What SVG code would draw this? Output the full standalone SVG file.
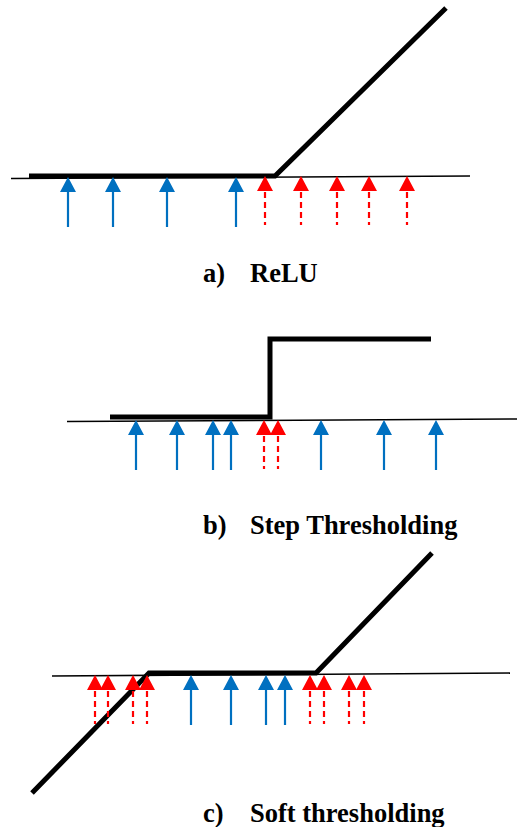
<svg xmlns="http://www.w3.org/2000/svg" width="517" height="827" viewBox="0 0 517 827">
  <style>
    .axis { stroke: #000; stroke-width: 1.6; fill: none; }
    .curve { stroke: #000; stroke-width: 5; fill: none; stroke-linejoin: miter; }
    .label { font-family: "Liberation Serif", "Times New Roman", serif; font-weight: bold; font-size: 26.5px; fill: #000; }
  </style>
  <defs>
    <!-- upward arrow, tip at origin -->
    <g id="blue-arrow">
      <line x1="0" y1="12" x2="0" y2="50" stroke="#0070C0" stroke-width="2.2"/>
      <polygon points="0,0 8,15 -8,15" fill="#0070C0"/>
    </g>
    <g id="red-arrow">
      <line x1="0" y1="16" x2="0" y2="49" stroke="#FF0000" stroke-width="2.2" stroke-dasharray="6 4"/>
      <polygon points="0,0 8,15 -8,15" fill="#FF0000"/>
    </g>
  </defs>

  <rect width="517" height="827" fill="#fff"/>

  <!-- a) ReLU -->
  <g id="relu">
    <line class="axis" x1="11" y1="178.5" x2="470" y2="176"/>
    <polyline class="curve" points="29,176 275,176 446,8"/>
    <g id="relu-arrows">
      <use href="#blue-arrow" x="68" y="177"/>
      <use href="#blue-arrow" x="113" y="177"/>
      <use href="#blue-arrow" x="167" y="177"/>
      <use href="#blue-arrow" x="236" y="177"/>
      <use href="#red-arrow" x="265" y="176"/>
      <use href="#red-arrow" x="301" y="176"/>
      <use href="#red-arrow" x="337" y="176"/>
      <use href="#red-arrow" x="369" y="176"/>
      <use href="#red-arrow" x="407" y="176"/>
    </g>
    <text class="label" y="282"><tspan x="203">a)</tspan><tspan x="250">ReLU</tspan></text>
  </g>

  <!-- b) Step thresholding -->
  <g id="step">
    <line class="axis" x1="67" y1="421.5" x2="517" y2="419"/>
    <polyline class="curve" points="110,417 270,417 270,339 431,339"/>
    <g id="step-arrows">
      <use href="#blue-arrow" x="136" y="420"/>
      <use href="#blue-arrow" x="177" y="420"/>
      <use href="#blue-arrow" x="213" y="420"/>
      <use href="#blue-arrow" x="231" y="420"/>
      <use href="#red-arrow" x="264" y="420"/>
      <use href="#red-arrow" x="278" y="420"/>
      <use href="#blue-arrow" x="321" y="420"/>
      <use href="#blue-arrow" x="384" y="420"/>
      <use href="#blue-arrow" x="436" y="420"/>
    </g>
    <text class="label" y="534"><tspan x="203">b)</tspan><tspan x="250">Step Thresholding</tspan></text>
  </g>

  <!-- c) Soft thresholding -->
  <g id="soft">
    <line class="axis" x1="52" y1="676" x2="510" y2="673"/>
    <polyline class="curve" points="32,793 149,673 316,673 432,553"/>
    <g id="soft-arrows">
      <use href="#red-arrow" x="95" y="675"/>
      <use href="#red-arrow" x="108" y="675"/>
      <use href="#red-arrow" x="133" y="675"/>
      <use href="#red-arrow" x="147" y="675"/>
      <use href="#blue-arrow" x="191" y="675"/>
      <use href="#blue-arrow" x="231" y="675"/>
      <use href="#blue-arrow" x="266" y="675"/>
      <use href="#blue-arrow" x="285" y="675"/>
      <use href="#red-arrow" x="310" y="675"/>
      <use href="#red-arrow" x="324" y="675"/>
      <use href="#red-arrow" x="349" y="675"/>
      <use href="#red-arrow" x="364" y="675"/>
    </g>
    <text class="label" y="822"><tspan x="203">c)</tspan><tspan x="250">Soft thresholding</tspan></text>
  </g>
</svg>
